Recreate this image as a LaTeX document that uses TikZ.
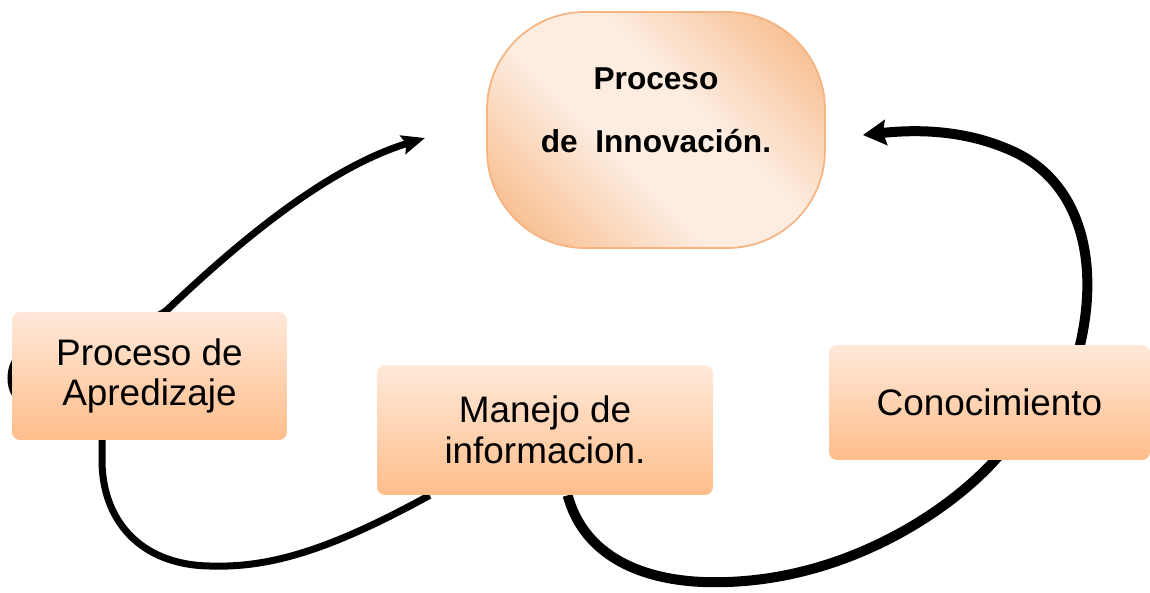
\documentclass[tikz,border=0pt]{standalone}
\usepackage{fontspec}
\setmainfont{Liberation Sans}
\usetikzlibrary{positioning,arrows.meta,calc,backgrounds}

\definecolor{boxtop}{RGB}{255,233,218}
\definecolor{boxbot}{RGB}{255,189,138}
\definecolor{ovlight}{RGB}{253,236,224}
\definecolor{ovdark}{RGB}{248,194,150}
\definecolor{ovline}{RGB}{246,180,130}

% diagonal fill of the innovation oval
\pgfdeclarehorizontalshading{ovshade}{100bp}{color(0bp)=(ovdark); color(22bp)=(ovdark);
  color(42bp)=(ovlight); color(58bp)=(ovlight); color(78bp)=(ovdark); color(100bp)=(ovdark)}

\tikzset{
  stage/.style={rounded corners=0.16cm, top color=boxtop, bottom color=boxbot,
    align=center, inner sep=0pt, font=\fontsize{21}{23}\selectfont},
  innov/.style={draw=ovline, line width=1pt, rounded corners=1.95cm,
    shading=ovshade, shading angle=45,
    minimum width=6.76cm, minimum height=4.72cm},
  innovtext/.style={align=center, font=\fontsize{18}{21.6}\selectfont\bfseries},
  flow/.style={line width=#1, black}
}

\begin{document}
\begin{tikzpicture}[x=0.02cm,y=-0.02cm]
  \useasboundingbox (0,0) rectangle (1150,592);
  % the four stages
  \node[innov] (inno) at (656,130) {};
  \node[innovtext] (innotxt) at ($(inno.center)+(0,-20)$) {Proceso\\[14pt]de\ \ Innovación.};
  \node[stage, minimum width=5.5cm, minimum height=2.56cm] (apr) at (149.5,376) {Proceso de\\Apredizaje};
  \node[stage, minimum width=6.72cm, minimum height=2.6cm] (man) at (545,430) {Manejo de\\informacion.};
  \node[stage, minimum width=6.42cm, minimum height=2.3cm] (con) at (989.5,402.5) {Conocimiento};
  % arrow tips, free ends
  \coordinate (tipL) at (425,138);
  \coordinate (tipR) at (863,135);
  \begin{scope}[on background layer]
    % left loop: manejo -> aprendizaje -> innovacion
    \draw[flow=0.14cm, -{Stealth[length=0.46cm,width=0.38cm,inset=0.07cm]}]
      ($(man.south west)+(53,0)$) .. controls (330,550) and (270,568) .. (210,566)
      .. controls (140,565) and (102,520) .. (102,460) -- (102,425)
      .. controls (102,395) and (11,430) .. (11,378)
      .. controls (11,320) and (130,340) .. (167,310)
      .. controls (225,255) and (320,170) .. (tipL);
    % right loop: manejo -> conocimiento -> innovacion
    \draw[flow=0.2cm, -{Stealth[length=0.46cm,width=0.5cm,inset=0.06cm]}]
      ($(man.south west)+(191,0)$) .. controls (585,560) and (650,585) .. (727,582)
      .. controls (850,578) and (950,510) .. (995,460)
      .. controls (1040,410) and (1072,380) .. (1080,345)
      .. controls (1100,260) and (1080,180) .. (1010,150)
      .. controls (960,128) and (910,130) .. (tipR);
  \end{scope}
\end{tikzpicture}
\end{document}
